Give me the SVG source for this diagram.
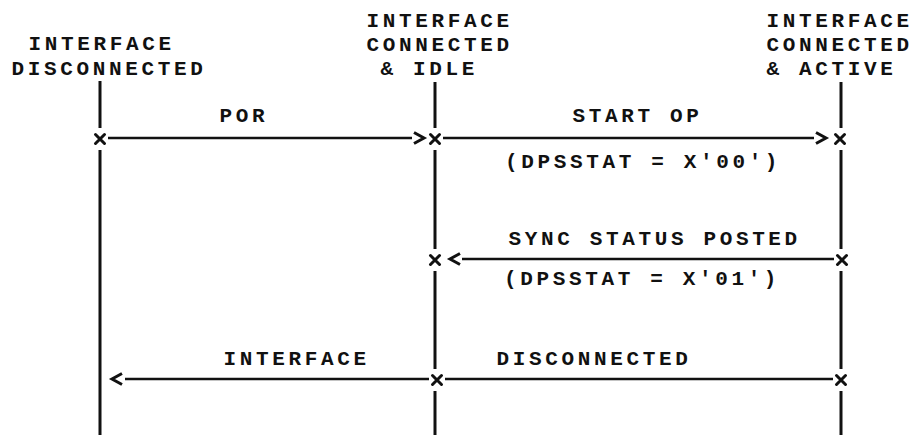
<svg xmlns="http://www.w3.org/2000/svg" width="917" height="435" viewBox="0 0 917 435">
  <style>
    .lbl { font-family: "Liberation Mono", "DejaVu Sans Mono", monospace; font-weight: bold; font-size: 21px; letter-spacing: 3.64px; fill: #111; }
    .life { stroke: #111; stroke-width: 3; fill: none; }
    .msg { stroke: #111; stroke-width: 2.6; fill: none; }
    .head { stroke: #111; stroke-width: 3; fill: none; }
  </style>
  <defs>
    <!-- state-point cross on a lifeline -->
    <symbol id="cross" viewBox="-6 -6 12 12" width="12" height="12" overflow="visible">
      <path d="M-4.5,-4.5 L4.5,4.5 M4.5,-4.5 L-4.5,4.5" stroke="#111" stroke-width="3" stroke-linecap="round"/>
    </symbol>
  </defs>

  <!-- state columns -->
  <g id="node-disconnected">
    <text class="lbl" x="28.5" y="50">INTERFACE</text>
    <text class="lbl" x="11.5" y="75">DISCONNECTED</text>
    <line class="life" x1="100" y1="81" x2="100" y2="128"/>
    <line class="life" x1="100" y1="150" x2="100" y2="435"/>
  </g>

  <g id="node-connected-idle">
    <text class="lbl" x="366.5" y="27">INTERFACE</text>
    <text class="lbl" x="366.5" y="51">CONNECTED</text>
    <text class="lbl" x="380.5" y="75">&amp; IDLE</text>
    <line class="life" x1="435" y1="82" x2="435" y2="128"/>
    <line class="life" x1="435" y1="150" x2="435" y2="249"/>
    <line class="life" x1="435" y1="271" x2="435" y2="369"/>
    <line class="life" x1="435" y1="391" x2="435" y2="435"/>
  </g>

  <g id="node-connected-active">
    <text class="lbl" x="766.5" y="27">INTERFACE</text>
    <text class="lbl" x="766.5" y="51">CONNECTED</text>
    <text class="lbl" x="766.5" y="75">&amp; ACTIVE</text>
    <line class="life" x1="841" y1="82" x2="841" y2="128"/>
    <line class="life" x1="841" y1="150" x2="841" y2="249"/>
    <line class="life" x1="841" y1="271" x2="841" y2="369"/>
    <line class="life" x1="841" y1="391" x2="841" y2="435"/>
  </g>

  <!-- transitions -->
  <g id="connectors">
    <!-- POR -->
    <use href="#cross" x="94" y="133"/>
    <line class="msg" x1="108" y1="138" x2="412" y2="138"/>
    <path class="head" d="M414,132.5 L424,138 L414,143.5"/>
    <text class="lbl" x="219.5" y="122">POR</text>

    <!-- START OP -->
    <use href="#cross" x="429" y="133"/>
    <line class="msg" x1="443" y1="138" x2="814" y2="138"/>
    <path class="head" d="M816,132.5 L826,138 L816,143.5"/>
    <use href="#cross" x="834" y="133"/>
    <text class="lbl" x="572.5" y="122">START OP</text>
    <text class="lbl" x="505" y="168">(DPSSTAT = X'00')</text>

    <!-- SYNC STATUS POSTED -->
    <use href="#cross" x="429" y="254"/>
    <path class="head" d="M460,253.5 L450,259 L460,264.5"/>
    <line class="msg" x1="462" y1="259" x2="834" y2="259"/>
    <use href="#cross" x="836" y="254"/>
    <text class="lbl" x="508.5" y="245">SYNC STATUS POSTED</text>
    <text class="lbl" x="504" y="285">(DPSSTAT = X'01')</text>

    <!-- INTERFACE DISCONNECTED -->
    <path class="head" d="M122,373.5 L112,379 L122,384.5"/>
    <line class="msg" x1="125" y1="379" x2="429" y2="379"/>
    <use href="#cross" x="431" y="374"/>
    <line class="msg" x1="445" y1="379" x2="833" y2="379"/>
    <use href="#cross" x="835" y="374"/>
    <text class="lbl" x="223.5" y="365">INTERFACE</text>
    <text class="lbl" x="496.5" y="365">DISCONNECTED</text>
  </g>
</svg>
